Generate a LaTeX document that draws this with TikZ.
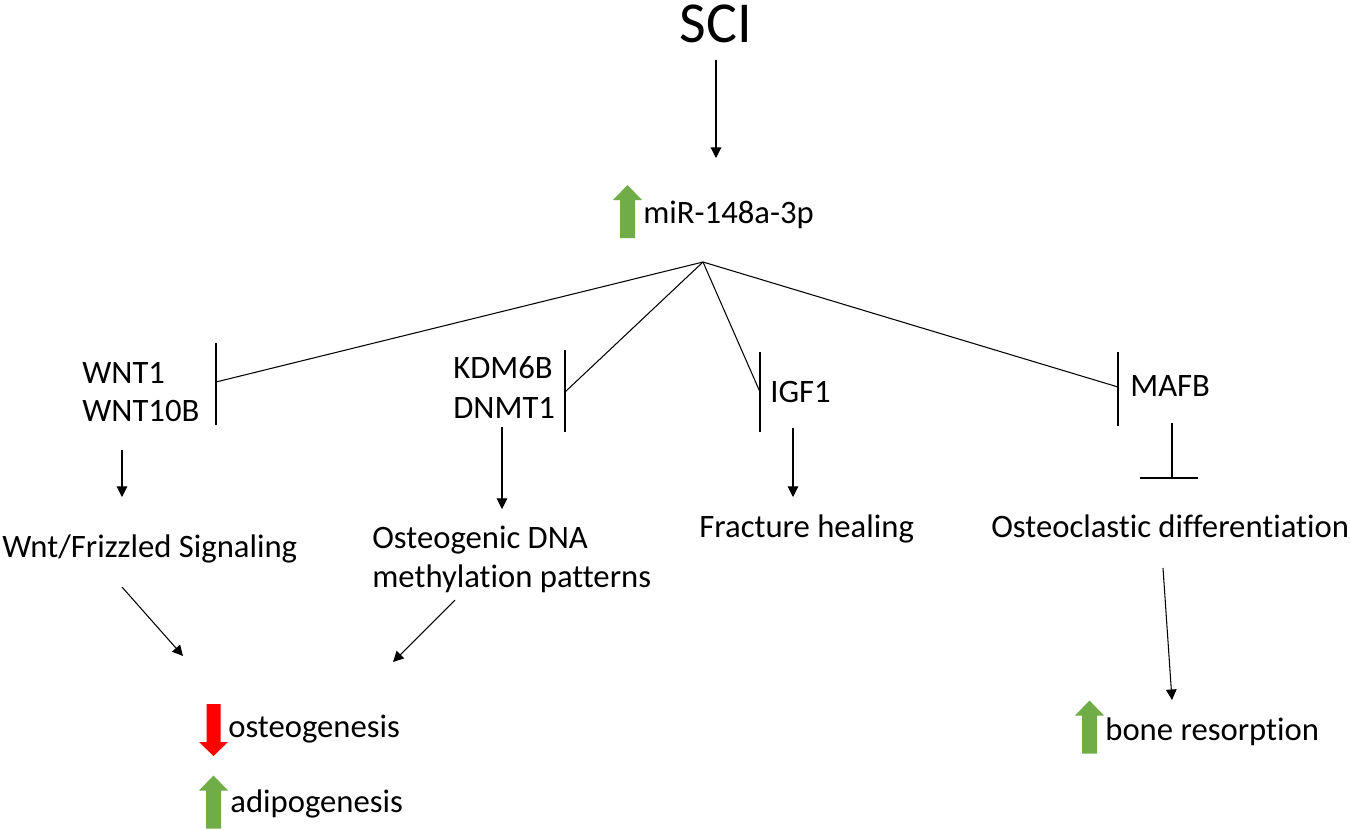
\documentclass[tikz,border=0pt]{standalone}
\usepackage{fontspec}
\setmainfont{Carlito}[RawFeature=-liga]
\usetikzlibrary{arrows.meta}
\definecolor{upgreen}{HTML}{70AD47}
\definecolor{downred}{HTML}{FF0000}

\begin{document}
\begin{tikzpicture}[x=0.02cm, y=-0.02cm,
  lbl/.style = {inner sep=0pt, anchor=base west, font=\fontsize{18.6}{22}\selectfont},
  arr/.style = {-{Triangle[length=6pt, width=6pt]}, line width=0.6pt},
  inh/.style = {line width=0.6pt},
  uparrow/.pic = {\fill[upgreen] (-7.5,26.5) -- (-7.5,-11.5) -- (-14.5,-11.5) -- (0,-26.5) -- (14.5,-11.5) -- (7.5,-11.5) -- (7.5,26.5) -- cycle;},
  downarrow/.pic = {\fill[downred] (-7,-26) -- (-7,12) -- (-14.5,12) -- (0,26) -- (14.5,12) -- (7,12) -- (7,-26) -- cycle;}]
\useasboundingbox (0,0) rectangle (1350,829);

% top
\node (sci) [inner sep=0pt, anchor=base, font=\fontsize{33}{38}\selectfont] at (716,42) {SCI};
\node (mir) [lbl] at (643,223) {miR-148a-3p};
\pic at (627.5,211.5) {uparrow};
\coordinate (s0) at (716,60);
\coordinate (s1) at (716,158);
\draw[arr] (s0) -- (s1);
\coordinate (br) at (703,262);

% targets
\node (wnt1) [lbl] at (82,383) {WNT1};
\node (wntb) [lbl] at (82,421) {WNT10B};
\node (kdm) [lbl] at (453,378) {KDM6B};
\node (dnmt) [lbl] at (453,418) {DNMT1};
\node (igf) [lbl] at (770,402) {IGF1};
\node (mafb) [lbl] at (1130,396) {MAFB};

\coordinate (bW) at (216,382);
\coordinate (bK) at (565,392);
\coordinate (bI) at (760,392);
\coordinate (bM) at (1118,387);
\foreach \b in {bW,bK,bI,bM}
  \draw[inh] (br) -- (\b);
\draw[inh] (bW) ++(0,-39) -- ++(0,82);
\draw[inh] (bK) ++(0,-42) -- ++(0,82);
\draw[inh] (bI) ++(0,-40) -- ++(0,80);
\draw[inh] (bM) ++(0,-35) -- ++(0,74);

% effects
\node (wfs) [lbl] at (2,557) {Wnt/Frizzled Signaling};
\node (dna1) [lbl] at (372,548) {Osteogenic DNA};
\node (dna2) [lbl] at (372,587) {methylation patterns};
\node (frac) [lbl] at (699,537) {Fracture healing};
\node (ocd) [lbl] at (991,537) {Osteoclastic differentiation};

\coordinate (w0) at (122,450);
\coordinate (w1) at (122,497);
\coordinate (k0) at (502,427);
\coordinate (k1) at (502,509);
\coordinate (i0) at (793,428);
\coordinate (i1) at (793,497);
\draw[arr] (w0) -- (w1);
\draw[arr] (k0) -- (k1);
\draw[arr] (i0) -- (i1);

\coordinate (m0) at (1172,423);
\coordinate (m1) at (1172,478);
\draw[inh] (m0) -- (m1);
\draw[inh] (m1) ++(-32,0) -- ++(58,0);

% outcomes
\node (ost) [lbl] at (228,737) {osteogenesis};
\pic at (213.5,730) {downarrow};
\node (adi) [lbl] at (230,812) {adipogenesis};
\pic at (213.5,802) {uparrow};
\node (bone) [lbl] at (1105,740) {bone resorption};
\pic at (1089.5,727) {uparrow};

\coordinate (d0) at (122,587);
\coordinate (d1) at (183,656);
\coordinate (e0) at (455,600);
\coordinate (e1) at (393,662);
\coordinate (o0) at (1163,568);
\coordinate (o1) at (1172,700);
\draw[arr] (d0) -- (d1);
\draw[arr] (e0) -- (e1);
\draw[arr] (o0) -- (o1);

\end{tikzpicture}
\end{document}
